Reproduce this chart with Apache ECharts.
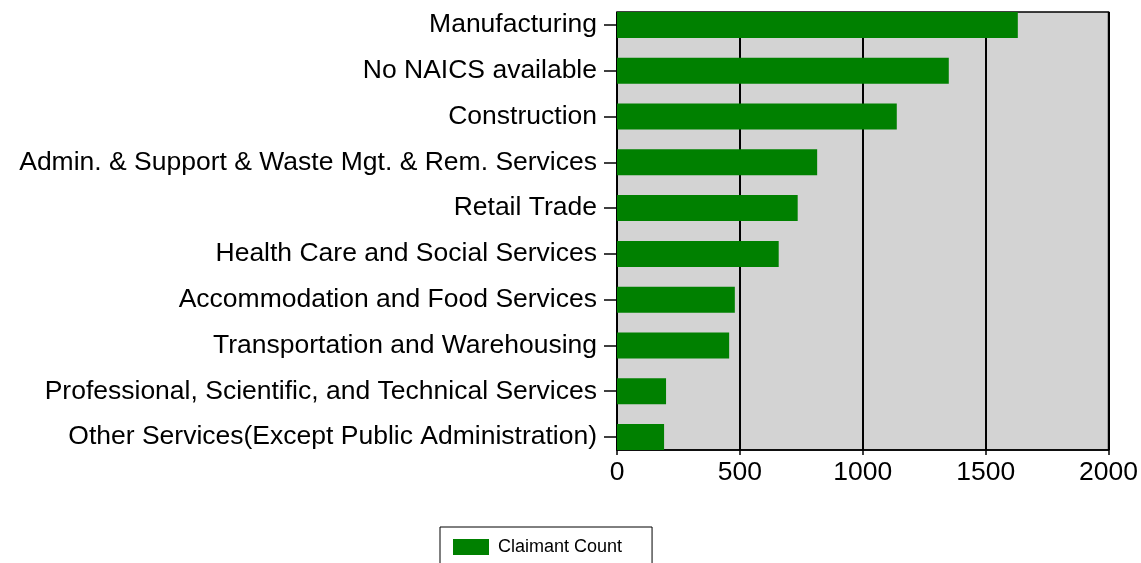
<!DOCTYPE html>
<html>
<head>
<meta charset="utf-8">
<script src="https://cdn.jsdelivr.net/npm/echarts@6/dist/echarts.min.js"></script>
<style>
html,body{margin:0;padding:0;background:#fff;}
#chart{width:1141px;height:563px;}
</style>
</head>
<body>
<div id="chart"></div>
<script>
var categories = [
  "Manufacturing",
  "No NAICS available",
  "Construction",
  "Admin. & Support & Waste Mgt. & Rem. Services",
  "Retail Trade",
  "Health Care and Social Services",
  "Accommodation and Food Services",
  "Transportation and Warehousing",
  "Professional, Scientific, and Technical Services",
  "Other Services(Except Public Administration)"
];
var claimantCount = [1626, 1346, 1135, 812, 733, 656, 478, 455, 199, 191];
var seriesName = "Claimant Count";
var xMin = 0, xMax = 2000, xStep = 500;

var FONT = "'Liberation Sans', Arial, sans-serif";
var chart = echarts.init(document.getElementById('chart'), null, {renderer: 'canvas'});
chart.setOption({
  animation: false,
  backgroundColor: '#ffffff',
  textStyle: {fontFamily: FONT},
  grid: [
    {left: 617, right: 31, top: 12, bottom: 113, show: true,
     backgroundColor: '#d3d3d3', borderColor: '#000', borderWidth: 1.5, containLabel: false},
    {left: 617, right: 31, top: 25, bottom: 126, show: false, containLabel: false}
  ],
  xAxis: [
    {gridIndex: 0, type: 'value', min: xMin, max: xMax, interval: xStep,
     axisLine: {show: true, lineStyle: {color: '#000', width: 1.5}},
     axisTick: {show: true, length: 5, lineStyle: {color: '#000', width: 1.5}},
     axisLabel: {color: '#000', fontSize: 26.5, fontFamily: FONT, margin: 9,
                 formatter: function (v) { return String(v); }},
     splitLine: {show: true, lineStyle: {color: '#000', width: 2}}},
    {gridIndex: 1, type: 'value', min: xMin, max: xMax, show: false,
     splitLine: {show: false}}
  ],
  yAxis: [
    {gridIndex: 0, type: 'value', show: false, splitLine: {show: false}},
    {gridIndex: 1, type: 'category', data: categories, inverse: true, boundaryGap: false,
     axisLine: {show: false},
     axisTick: {show: true, length: 13, alignWithLabel: true, lineStyle: {color: '#000', width: 1.5}},
     axisLabel: {color: '#000', fontSize: 26.5, fontFamily: FONT, margin: 20, interval: 0},
     splitLine: {show: false}}
  ],
  legend: {
    show: true,
    data: [seriesName],
    left: 440, top: 527,
    padding: [11, 30, 20, 13],
    borderColor: '#000', borderWidth: 1,
    itemWidth: 36, itemHeight: 16,
    icon: 'rect',
    textStyle: {color: '#000', fontSize: 18, fontFamily: FONT, padding: [0, 0, 0, 4]}
  },
  series: [{
    name: seriesName,
    type: 'bar',
    xAxisIndex: 1, yAxisIndex: 1,
    data: claimantCount,
    barWidth: 26,
    itemStyle: {color: '#008000'},
    z: 3
  }]
});
</script>
</body>
</html>
